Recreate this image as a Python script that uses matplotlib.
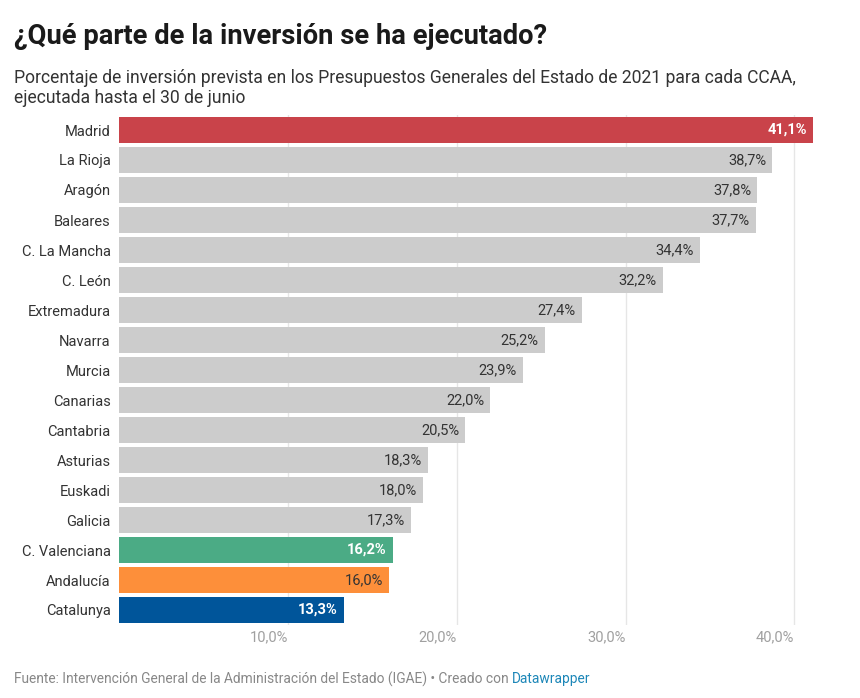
import matplotlib
matplotlib.use("Agg")
import matplotlib.pyplot as plt

plt.rcParams['font.family'] = ['Roboto', 'DejaVu Sans']

regions = ["Madrid", "La Rioja", "Aragón", "Baleares", "C. La Mancha", "C. León",
           "Extremadura", "Navarra", "Murcia", "Canarias", "Cantabria", "Asturias",
           "Euskadi", "Galicia", "C. Valenciana", "Andalucía", "Catalunya"]
values = [41.1, 38.7, 37.8, 37.7, 34.4, 32.2, 27.4, 25.2, 23.9, 22.0, 20.5, 18.3,
          18.0, 17.3, 16.2, 16.0, 13.3]
ticks = [10, 20, 30, 40]
tick_labels = ["10,0%", "20,0%", "30,0%", "40,0%"]

highlight = {"Madrid": ("#c9434a", "white", "bold"),
             "C. Valenciana": ("#4bab85", "white", "bold"),
             "Andalucía": ("#fd8f3a", "#333333", "normal"),
             "Catalunya": ("#00559a", "white", "bold")}

W, H = 860, 698
fig = plt.figure(figsize=(W / 100, H / 100), dpi=100)
fig.patch.set_facecolor("white")

ax_left, ax_right = 119 / W, 813 / W
ax_top, ax_bottom = 1 - 115 / H, 1 - 625 / H
ax = fig.add_axes([ax_left, ax_bottom, ax_right - ax_left, ax_top - ax_bottom])

ypos = list(range(len(regions)))
colors = [highlight.get(r, ("#cccccc",))[0] for r in regions]
ax.barh(ypos, values, height=0.87, color=colors, zorder=2)

for y, r, v in zip(ypos, regions, values):
    _, tc, tw = highlight.get(r, (None, "#333333", "normal"))
    ax.text(v - 0.35, y, f"{v:.1f}".replace(".", ",") + "%", ha="right", va="center",
            color=tc, fontsize=10.5, fontweight=tw, zorder=3)

ax.set_xlim(0, 41.1)
ax.set_ylim(16.5, -0.5)
ax.set_yticks(ypos)
ax.set_yticklabels(regions, fontsize=10.5, color="#333333")
ax.set_xticks(ticks)
ax.set_xticklabels(tick_labels, fontsize=10.5, color="#a0a0a0", ha="right")
ax.tick_params(axis="both", length=0)
ax.tick_params(axis="y", pad=6)
ax.tick_params(axis="x", pad=4)
for s in ax.spines.values():
    s.set_visible(False)
ax.grid(axis="x", color="#e6e6e6", linewidth=1, zorder=0)
ax.set_axisbelow(True)

fig.text(14 / W, 1 - 36 / H, "¿Qué parte de la inversión se ha ejecutado?",
         fontsize=19.7, fontweight="bold", color="#1a1a1a", va="center", ha="left")
fig.text(14 / W, 1 - 78 / H,
         "Porcentaje de inversión prevista en los Presupuestos Generales del Estado de 2021 para cada CCAA,",
         fontsize=12.65, color="#333333", va="center", ha="left")
fig.text(14 / W, 1 - 98 / H, "ejecutada hasta el 30 de junio",
         fontsize=12.65, color="#333333", va="center", ha="left")

foot = fig.text(14 / W, 1 - 679 / H,
                "Fuente: Intervención General de la Administración del Estado (IGAE) • Creado con ",
                fontsize=9.95, color="#888888", va="center", ha="left")
fig.canvas.draw()
bb = foot.get_window_extent(renderer=fig.canvas.get_renderer())
fig.text(bb.x1 / W, 1 - 679 / H, "Datawrapper", fontsize=9.95, color="#1d87b8",
         va="center", ha="left")

fig.savefig("out.png", dpi=100, facecolor="white")
